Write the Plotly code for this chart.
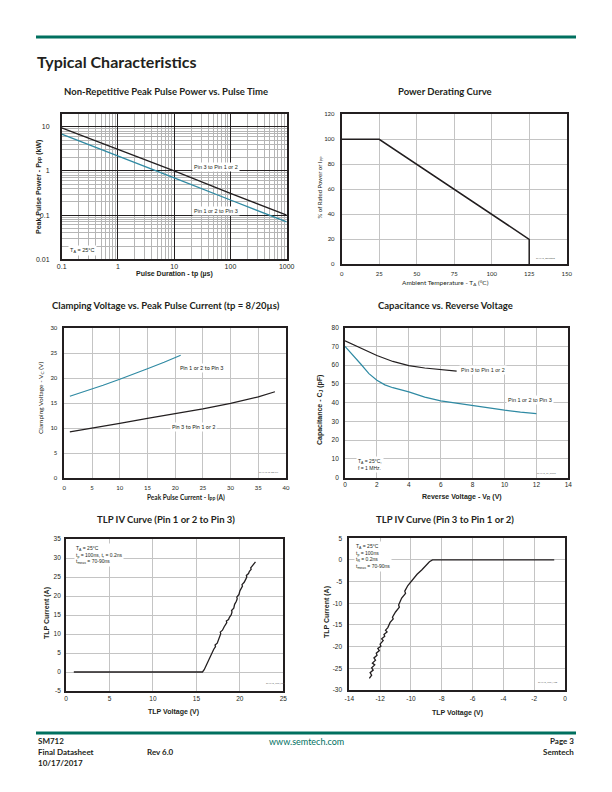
import plotly.graph_objects as go

# ---------------- data ----------------
# Plot 1: Peak pulse power vs pulse time
tp_us = [0.1, 1, 10, 100, 1000]
ppp_pin3 = [9.5, 3.1, 1.0, 0.31, 0.1]
ppp_pin12 = [6.8, 2.2, 0.7, 0.22, 0.07]

# Plot 2: power derating
temp_c = [0, 25, 125, 125]
derate_pct = [100, 100, 20, 0]

# Plot 3: clamping voltage
ipp_pin12 = [1, 3, 5, 7, 10, 12, 15, 18, 21]
vc_pin12 = [16.4, 17.1, 17.8, 18.6, 19.8, 20.6, 21.9, 23.2, 24.6]
ipp_pin3 = [1, 5, 10, 15, 20, 25, 30, 35, 38]
vc_pin3 = [9.3, 10.0, 11.0, 12.0, 12.9, 13.9, 15.0, 16.3, 17.3]

# Plot 4: capacitance
vr_pin3 = [0, 1, 2, 3, 4, 5, 6, 7]
cj_pin3 = [73, 69, 65.2, 62, 59.8, 58.5, 57.5, 56.8]
vr_pin12 = [0, 0.5, 1, 1.5, 2, 2.5, 3, 4, 5, 6, 7, 8, 9, 10, 11, 12]
cj_pin12 = [70, 65.5, 60.5, 55.5, 52, 49.5, 48, 45.8, 43, 41, 39.7, 38.5, 37.2, 36, 35, 34.2]

# Plot 5: TLP IV (Pin 1 or 2 to Pin 3)
tlp1_v = [0.9, 15.7, 15.9, 16.1, 16.3, 16.5, 16.7, 16.8, 17.0, 17.2, 17.15, 17.4, 17.5,
          17.7, 17.8, 17.75, 18.0, 18.2, 18.3, 18.5, 18.45, 18.7, 18.8, 19.0, 19.1, 19.05,
          19.3, 19.4, 19.6, 19.7, 19.65, 19.9, 20.0, 20.2, 20.3, 20.25, 20.5, 20.7, 20.8,
          20.75, 21.0, 21.1, 21.3, 21.25, 21.4, 21.6, 21.8]
tlp1_i = [0.0, 0.0, 0.6, 1.6, 2.7, 3.6, 4.6, 5.3, 6.0, 6.7, 7.1, 7.6, 8.4,
          9.6, 10.1, 10.5, 11.0, 11.9, 12.3, 13.0, 13.4, 13.8, 14.4, 15.0, 15.8, 16.2,
          16.8, 17.8, 18.6, 19.3, 19.7, 20.4, 21.3, 22.0, 22.6, 23.0, 23.6, 24.5, 25.0,
          25.4, 25.9, 26.5, 27.0, 27.4, 27.8, 28.5, 29.0]

# Plot 6: TLP IV (Pin 3 to Pin 1 or 2)
tlp2_v = [-0.7, -8.6, -8.8, -9.0, -9.3, -9.6, -9.9, -10.2, -10.4, -10.35, -10.6, -10.8,
          -10.75, -11.0, -11.2, -11.15, -11.35, -11.5, -11.65, -11.55, -11.75, -11.7, -11.9,
          -11.8, -12.0, -11.95, -12.15, -12.05, -12.25, -12.2, -12.4, -12.3, -12.5, -12.35,
          -12.55, -12.45, -12.65, -12.55, -12.7]
tlp2_i = [0.0, 0.0, -0.4, -1.2, -2.3, -3.3, -4.6, -5.9, -7.2, -7.7, -8.8, -10.4,
          -10.9, -12.0, -13.2, -13.6, -14.4, -15.6, -16.2, -16.6, -17.2, -17.6, -18.2,
          -18.6, -19.4, -19.9, -20.4, -20.9, -21.5, -22.0, -22.6, -23.1, -23.8, -24.2,
          -24.9, -25.4, -26.0, -26.6, -27.3]

# tick labels (plain hyphen minus, as on the datasheet)
tlp1_y_ticks = [-5, 0, 5, 10, 15, 20, 25, 30, 35]
tlp1_y_labels = ["-5", "0", "5", "10", "15", "20", "25", "30", "35"]
tlp2_x_ticks = [-14, -12, -10, -8, -6, -4, -2, 0]
tlp2_x_labels = ["-14", "-12", "-10", "-8", "-6", "-4", "-2", "0"]
tlp2_y_ticks = [-30, -25, -20, -15, -10, -5, 0, 5]
tlp2_y_labels = ["-30", "-25", "-20", "-15", "-10", "-5", "0", "5"]

# ---------------- styling ----------------
PAGE_W, PAGE_H = 612, 792
OFF = 8  # default page body margin of the html page
W, H = PAGE_W - OFF, PAGE_H - OFF
BLACK = "#231f20"
TEAL = "#2f8aa3"
GREEN = "#00705f"
PAGE_FONT = "Lato"
ARIAL = "Liberation Sans"

def px(x):
    return (x - OFF) / W

def py(y):
    return 1 - (y - OFF) / H

fig = go.Figure()

# plot areas in page pixel coords (left, right, top, bottom)
areas = {
    1: (61.7, 286.7, 113.5, 259.3),
    2: (341.7, 566.7, 114.3, 264.3),
    3: (64.3, 286.0, 328.3, 478.3),
    4: (345.0, 568.3, 327.7, 477.7),
    5: (66.0, 283.3, 539.0, 691.0),
    6: (349.3, 565.0, 538.3, 690.0),
}

def ax_names(i):
    return ("xaxis" if i == 1 else f"xaxis{i}", "yaxis" if i == 1 else f"yaxis{i}",
            "x" if i == 1 else f"x{i}", "y" if i == 1 else f"y{i}")

layout = {}

def set_axes(i, xopts, yopts):
    l, r, t, b = areas[i]
    xn, yn, xr, yr = ax_names(i)
    base = dict(showline=True, linecolor=BLACK, mirror=True, ticks="", zeroline=False,
                automargin=False)
    xo = dict(base); xo.update(domain=[px(l), px(r)], anchor=yr); xo.update(xopts)
    yo = dict(base); yo.update(domain=[py(b), py(t)], anchor=xr); yo.update(yopts)
    layout[xn] = xo
    layout[yn] = yo

# Plot 1 (log-log)
minor_grid = dict(dtick="D1", showgrid=True, gridcolor="#b5b5b5", gridwidth=0.8, ticks="")
set_axes(1,
         dict(type="log", range=[-1, 3], dtick=1, exponentformat="none", showgrid=True,
              gridcolor=BLACK, gridwidth=1.3, linewidth=1.5, minor=minor_grid,
              ticklabelstandoff=0, tickfont=dict(family=ARIAL, size=7, color=BLACK)),
         dict(type="log", range=[-2, 1.30103], tickvals=[0.01, 0.1, 1, 10],
              ticktext=["0.01", "0.1", "1", "10"], showgrid=True, gridcolor=BLACK,
              gridwidth=1.3, linewidth=1.5, minor=minor_grid, ticklabelstandoff=9,
              tickfont=dict(family=ARIAL, size=7, color=BLACK)))

grid_grey = "#c4c4c4"
set_axes(2,
         dict(range=[0, 150], dtick=25, showgrid=True, gridcolor=grid_grey, linewidth=1.8,
              ticklabelstandoff=3, tickfont=dict(family=PAGE_FONT, size=6, color=BLACK)),
         dict(range=[0, 120], dtick=20, showgrid=True, gridcolor=grid_grey, linewidth=1.8,
              ticklabelstandoff=4, tickfont=dict(family=PAGE_FONT, size=6, color=BLACK)))
set_axes(3,
         dict(range=[0, 40], dtick=5, showgrid=True, gridcolor=grid_grey, linewidth=1.5,
              ticklabelstandoff=3, tickfont=dict(family=PAGE_FONT, size=6, color=BLACK)),
         dict(range=[0, 30], dtick=5, showgrid=True, gridcolor=grid_grey, linewidth=1.5,
              ticklabelstandoff=4, tickfont=dict(family=PAGE_FONT, size=6, color=BLACK)))
set_axes(4,
         dict(range=[0, 14], dtick=2, showgrid=True, gridcolor=grid_grey, linewidth=1.8,
              ticklabelstandoff=0, tickfont=dict(family=ARIAL, size=6.5, color=BLACK)),
         dict(range=[0, 80], dtick=10, showgrid=True, gridcolor=grid_grey, linewidth=1.8,
              ticklabelstandoff=3, tickfont=dict(family=ARIAL, size=6.5, color=BLACK)))
set_axes(5,
         dict(range=[0, 25], dtick=5, showgrid=True, gridcolor=grid_grey, linewidth=1.8,
              ticklabelstandoff=0, tickfont=dict(family=ARIAL, size=6.5, color=BLACK)),
         dict(range=[-5, 35], tickvals=tlp1_y_ticks, ticktext=tlp1_y_labels, showgrid=True,
              gridcolor=grid_grey, linewidth=1.8,
              ticklabelstandoff=2, tickfont=dict(family=ARIAL, size=6.5, color=BLACK)))
set_axes(6,
         dict(range=[-14, 0], tickvals=tlp2_x_ticks, ticktext=tlp2_x_labels, showgrid=True,
              gridcolor=grid_grey, linewidth=1.8,
              ticklabelstandoff=1, tickfont=dict(family=ARIAL, size=6.5, color=BLACK)),
         dict(range=[-30, 5], tickvals=tlp2_y_ticks, ticktext=tlp2_y_labels, showgrid=True,
              gridcolor=grid_grey, linewidth=1.8,
              ticklabelstandoff=4, tickfont=dict(family=ARIAL, size=6.5, color=BLACK)))

def add_line(i, x, y, color, width=1.3):
    _, _, xr, yr = ax_names(i)
    fig.add_trace(go.Scatter(x=x, y=y, mode="lines", xaxis=xr, yaxis=yr,
                             line=dict(color=color, width=width), showlegend=False,
                             hoverinfo="skip"))

add_line(1, tp_us, ppp_pin3, BLACK)
add_line(1, tp_us, ppp_pin12, TEAL)
add_line(2, temp_c, derate_pct, BLACK, 1.5)
add_line(3, ipp_pin12, vc_pin12, TEAL, 1.2)
add_line(3, ipp_pin3, vc_pin3, BLACK, 1.2)
add_line(4, vr_pin3, cj_pin3, BLACK, 1.2)
add_line(4, vr_pin12, cj_pin12, TEAL, 1.2)
add_line(5, tlp1_v, tlp1_i, BLACK, 1.3)
add_line(6, tlp2_v, tlp2_i, BLACK, 1.3)

ann = []

def text(x, y, s, size=7, bold=False, family=PAGE_FONT, color=BLACK, xanchor="center",
         yanchor="middle", angle=0, bg=None, align="center"):
    if bold:
        s = f"<b>{s}</b>"
    d = dict(x=px(x), y=py(y), xref="paper", yref="paper", text=s, showarrow=False,
             font=dict(family=family, size=size, color=color), xanchor=xanchor,
             yanchor=yanchor, textangle=angle, align=align, borderpad=1)
    if bg:
        d["bgcolor"] = bg
    ann.append(d)

# page header / footer
text(35, 62, "Typical Characteristics", size=16, bold=True, xanchor="left")
text(36, 741, "SM712", size=8, bold=True, xanchor="left")
text(36, 752, "Final Datasheet", size=8, bold=True, xanchor="left")
text(36, 763, "10/17/2017", size=8, bold=True, xanchor="left")
text(145, 752, "Rev 6.0", size=8, bold=True, xanchor="left")
text(306, 741, "www.semtech.com", size=9, color=GREEN)
text(576, 741, "Page 3", size=8, bold=True, xanchor="right")
text(576, 752, "Semtech", size=8, bold=True, xanchor="right")

# subplot titles
text(166, 91, "Non-Repetitive Peak Pulse Power vs. Pulse Time", size=9.5, bold=True)
text(445, 91, "Power Derating Curve", size=9.5, bold=True)
text(166, 305, "Clamping Voltage vs. Peak Pulse Current (tp = 8/20µs)", size=9.5, bold=True)
text(445, 305, "Capacitance vs. Reverse Voltage", size=9.5, bold=True)
text(166, 520, "TLP IV Curve (Pin 1 or 2 to Pin 3)", size=9.5, bold=True)
text(445, 520, "TLP IV Curve (Pin 3 to Pin 1 or 2)", size=9.5, bold=True)

# axis titles
text(174, 274, "Pulse Duration - tp (µs)", size=7, bold=True, family=ARIAL)
text(39, 187, "Peak Pulse Power - P<sub>PP</sub> (kW)", size=7, bold=True, family=ARIAL, angle=-90)
text(445, 283, "Ambient Temperature - T<sub>A</sub> (°C)", size=6.5, family=PAGE_FONT)
text(319.5, 188, "% of Rated Power or I<sub>PP</sub>", size=6, family=PAGE_FONT, angle=-90)
text(186, 497.5, "Peak Pulse Current - I<sub>PP</sub> (A)", size=6.5, bold=True, family=PAGE_FONT)
text(41, 398, "Clamping Voltage - V<sub>C</sub> (V)", size=6.5, family=PAGE_FONT, angle=-90)
text(462, 497, "Reverse Voltage - V<sub>R</sub> (V)", size=7, bold=True, family=ARIAL)
text(320, 410, "Capacitance - C<sub>J</sub> (pF)", size=7, bold=True, family=ARIAL, angle=-90)
text(173, 712, "TLP Voltage (V)", size=7, bold=True, family=ARIAL)
text(47, 613, "TLP Current (A)", size=7, bold=True, family=ARIAL, angle=-90)
text(457, 712.5, "TLP Voltage (V)", size=7, bold=True, family=ARIAL)
text(327, 612, "TLP Current (A)", size=7, bold=True, family=ARIAL, angle=-90)

# in-plot labels
text(215.5, 166.7, "Pin 3 to Pin 1 or 2", size=5.5, family=ARIAL, bg="white")
text(215.5, 210.5, "Pin 1 or 2 to Pin 3", size=5.5, family=ARIAL, bg="white")
text(68, 250.5, "T<sub>A</sub> = 25°C", size=5.5, family=ARIAL, xanchor="left", bg="white")

text(202, 368, "Pin 1 or 2 to Pin 3", size=5.5, family=PAGE_FONT, bg="white")
text(193, 426.5, "Pin 3 to Pin 1 or 2", size=5.5, family=PAGE_FONT, bg="white")

text(483, 370, "Pin 3 to Pin 1 or 2", size=5.5, family=ARIAL, bg="white")
text(530, 400, "Pin 1 or 2 to Pin 3", size=5.5, family=ARIAL, bg="white")
text(356, 464.5, "T<sub>A</sub> = 25°C,<br>f = 1 MHz.", size=5, family=ARIAL,
     xanchor="left", bg="white", align="left")

text(74, 555, "T<sub>A</sub> = 25°C<br>t<sub>p</sub> = 100ns, t<sub>r</sub> = 0.2ns<br>"
     "t<sub>meas</sub> = 70-90ns", size=5, family=ARIAL, xanchor="left", bg="white", align="left")
text(354, 556, "T<sub>A</sub> = 25°C<br>t<sub>p</sub> = 100ns<br>t<sub>R</sub> = 0.2ns<br>"
     "t<sub>meas</sub> = 70-90ns", size=5, family=ARIAL, xanchor="left", bg="white", align="left")

# tiny figure IDs
text(545, 258, "SM712_Derating", size=2.5, color="#555")
text(268, 472, "SM712 Vc Ipp TV", size=2.5, color="#555")
text(547, 473, "SM712_cv_curve", size=2.5, color="#555")
text(275, 683, "SM712_TLP_Pos", size=2.5, color="#555")
text(548, 682, "SM712_TLP_Neg", size=2.5, color="#555")

# header / footer rules
shapes = [
    dict(type="line", xref="paper", yref="paper", x0=px(36), x1=px(576), y0=py(37), y1=py(37),
         line=dict(color=GREEN, width=3)),
    dict(type="line", xref="paper", yref="paper", x0=px(36), x1=px(576), y0=py(733), y1=py(733),
         line=dict(color=GREEN, width=3)),
]

fig.update_layout(
    width=W, height=H, margin=dict(l=0, r=0, t=0, b=0),
    paper_bgcolor="white", plot_bgcolor="white",
    annotations=ann, shapes=shapes, showlegend=False,
    font=dict(family=PAGE_FONT, color=BLACK),
    **layout,
)

fig.write_html("out.html")
